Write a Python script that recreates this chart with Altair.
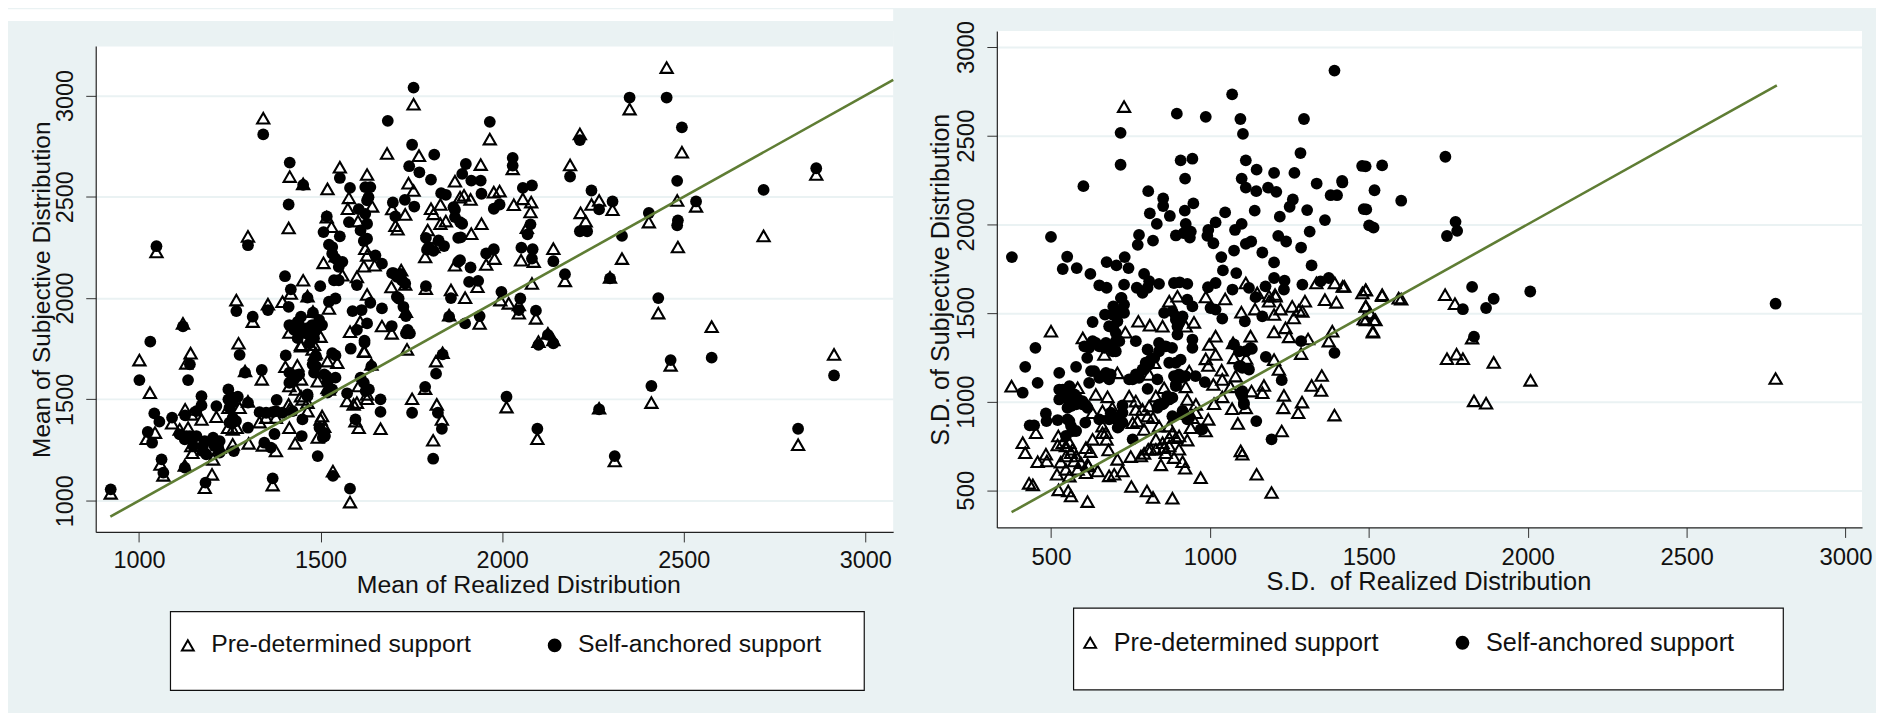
import altair as alt
import pandas as pd

BG = "#eaf2f3"
FONT = "Liberation Sans"
GREEN = "#5f7d34"
PRE = "Pre-determined support"
SELF = "Self-anchored support"

LEFT_TRI = [(1048,2228),(1342,2888),(1415,2600),(1452,2564),(1412,2346),(1300,2305),(1452,2088),(1418,2023),(1464,2010),(1268,1990),(1313,1884),(1355,1970),(1395,1982),(1121,1875),(1142,1728),(1274,1777),(1001,1694),(1130,1678),(1030,1533),(1021,1306),(1044,1336),(1091,1382),(1059,1179),(1067,1125),(922,1036),(1127,1451),(1172,1401),(1144,1426),(1147,1237),(1126,1174),(1204,1204),(1222,1262),(1181,1064),(1201,1130),(1213,1414),(1246,1459),(1277,1459),(1300,1490),(1245,1360),(1269,1360),(1302,1283),(1258,1278),(1332,1388),(1350,1410),(1412,1475),(1341,1273),(1377,1245),(1368,1077),(1414,1360),(1430,1283),(1450,1500),(1464,1442),(1492,1312),(1500,1401),(1510,1365),(1534,1146),(1581,993),(1519,1557),(1573,1492),(1591,1475),(1596,1393),(1605,1360),(1665,1355),(1605,1566),(1628,1503),(1752,1503),(1788,1553),(1820,1475),(1834,1401),(1810,1298),(1818,1689),(1836,1730),(1546,1681),(1519,1689),(1619,1738),(1640,1673),(1738,1747),(1403,1661),(1436,1668),(1446,1599),(1414,1566),(1432,1549),(1492,1590),(1484,1722),(1446,1763),(1478,1747),(1338,1599),(1292,1640),(1479,1933),(1414,1830),(1446,1770),(1500,1810),(1482,1770),(1523,1949),(1628,2018),(1609,1884),(1669,1862),(1696,1826),(1581,1834),(1621,1736),(1735,1933),(1695,2055),(1600,2105),(1790,2047),(1859,2040),(1854,1916),(1519,2539),(1553,2646),(1578,2495),(1575,2441),(1603,2380),(1517,2400),(1530,2352),(1628,2610),(1642,2453),(1623,2244),(1628,2211),(1619,2157),(1649,2162),(1683,2714),(1541,2207),(1508,2174),(1560,2113),(1756,2957),(1771,2703),(1742,2567),(1756,2531),(1697,2440),(1733,2413),(1706,2357),(1712,2340),(1804,2441),(1830,2462),(1870,2577),(1884,2498),(1811,2416),(1845,2380),(1830,2367),(1795,2336),(1811,2252),(1788,2203),(1870,2162),(1722,2138),(1733,2068),(1966,2785),(2214,2810),(2351,2933),(2453,3138),(2495,2720),(2482,2482),(2534,2453),(2484,2252),(2404,2375),(2330,2195),(2720,2307),(2865,2610),(2187,2657),(1941,2659),(2029,2638),(1977,2523),(1993,2528),(1913,2487),(1895,2507),(2057,2490),(2080,2474),(2032,2461),(2078,2425),(2068,2348),(2246,2462),(2267,2482),(2304,2436),(2216,2421),(2230,2380),(1943,2367),(1915,2318),(1979,2195),(1956,2166),(2052,2187),(2087,2180),(2141,2244),(2173,2085),(2082,2072),(1932,2056),(1898,2002),(1995,1990),(2018,1974),(2046,1966),(2046,1925),(2093,1900),(1938,1875),(2297,2102),(2126,1826),(2141,1793),(2100,1785),(2430,1926),(2577,1859),(2914,1722),(2464,1668),(2411,1484),(2012,1462),(2097,1306),(2267,1456),(2310,1196),(2815,1276),(1487,1728),(1135,1360),(1112,1352),(1258,1352),(1176,1253),(1144,1270),(1377,1410),(1414,1451),(1446,1516),(1464,1484),(1504,1418),(1523,1549),(1628,1525),(1600,1484)]

LEFT_CIR = [(1048,2256),(1342,2808),(1415,2669),(1452,2559),(1412,2462),(1300,2261),(1402,2108),(1418,2043),(1464,2002),(1499,2059),(1268,1936),(1313,1908),(1355,1941),(1412,1957),(1121,1860),(1031,1785),(1277,1720),(1001,1595),(1140,1673),(1135,1595),(1042,1431),(1056,1390),(1024,1339),(1036,1286),(1091,1410),(1062,1204),(1067,1138),(922,1056),(1127,1421),(1158,1442),(1172,1516),(1172,1470),(1112,1327),(1130,1319),(1144,1303),(1149,1270),(1126,1163),(1176,1270),(1181,1294),(1204,1311),(1222,1294),(1208,1270),(1222,1237),(1183,1089),(1213,1467),(1246,1549),(1246,1500),(1272,1513),(1258,1484),(1300,1484),(1258,1410),(1249,1385),(1300,1360),(1261,1245),(1332,1437),(1350,1434),(1368,1437),(1379,1497),(1377,1442),(1395,1434),(1423,1442),(1345,1286),(1373,1329),(1363,1262),(1368,1110),(1448,1319),(1464,1525),(1450,1401),(1492,1220),(1512,1319),(1534,1122),(1581,1059),(1519,1533),(1573,1530),(1596,1401),(1665,1438),(1665,1500),(1610,1607),(1619,1582),(1633,1549),(1752,1434),(1788,1562),(1823,1434),(1834,1355),(1810,1207),(1818,1627),(1836,1722),(1541,1717),(1583,1750),(1621,1780),(1640,1664),(1404,1717),(1414,1632),(1436,1615),(1487,1664),(1478,1673),(1482,1632),(1487,1714),(1516,1615),(1541,1607),(1338,1645),(1292,1632),(1446,1908),(1441,1867),(1479,1928),(1504,1867),(1477,1867),(1414,1867),(1437,1802),(1464,1851),(1482,1802),(1523,1982),(1541,1998),(1588,1936),(1613,1941),(1637,1977),(1628,1875),(1669,1949),(1696,1862),(1600,1843),(1621,1790),(1740,1843),(1735,1826),(1735,1911),(1715,1998),(1600,2064),(1790,2059),(1859,2000),(1854,1908),(1553,2593),(1581,2544),(1605,2439),(1578,2375),(1517,2403),(1508,2326),(1553,2305),(1637,2548),(1628,2482),(1628,2367),(1628,2293),(1619,2282),(1651,2211),(1669,2170),(1685,2875),(1523,2264),(1532,2220),(1560,2179),(1537,2088),(1756,3039),(1752,2757),(1813,2708),(1744,2651),(1772,2621),(1804,2585),(1758,2452),(1732,2485),(1699,2472),(1706,2403),(1832,2518),(1845,2510),(1870,2436),(1884,2375),(1790,2297),(1879,2297),(1840,2257),(1793,2239),(1811,2233),(1879,2179),(1697,2123),(1720,2119),(1733,2072),(1966,2870),(2214,2780),(2351,2990),(2453,2990),(2495,2843),(2482,2579),(2534,2477),(2484,2384),(2482,2359),(2404,2420),(2330,2307),(2720,2534),(2865,2641),(2187,2600),(1900,2662),(2029,2692),(2029,2654),(1915,2580),(1941,2580),(1943,2515),(1890,2613),(2057,2544),(2082,2556),(1993,2462),(1977,2441),(2078,2364),(2070,2315),(2267,2438),(2246,2531),(2304,2477),(2214,2330),(2234,2330),(1886,2300),(1890,2367),(1977,2241),(1956,2220),(2053,2249),(2084,2241),(2082,2195),(2141,2182),(2173,2118),(1913,2151),(1909,2080),(1934,2085),(1998,2031),(2050,1998),(2046,1941),(2093,1938),(1938,1911),(1898,1875),(2297,2097),(2126,1818),(2141,1777),(2100,1769),(2430,2000),(2914,1618),(2577,1706),(2464,1694),(2411,1566),(2012,1513),(2097,1355),(2267,1451),(2310,1220),(2815,1355),(1427,1843),(1446,1851),(1437,1883),(1460,1826),(1487,1843),(1496,1892),(1470,1777),(1532,1728),(1623,2548),(1632,2498),(1623,2416),(1610,2334),(1532,2252),(1541,2195),(1550,2154),(1550,2088),(1710,2105),(1724,2088),(1710,2006),(1728,1957),(1746,1826),(1701,2123),(1798,2252),(1825,2285),(1866,2449),(1870,2400),(1884,2187),(1158,1319),(1176,1245),(1140,1319),(1126,1303),(1185,1229),(1204,1286),(1218,1262),(1258,1385),(1267,1393),(1249,1459),(1258,1508),(1414,1582),(1427,1599),(1441,1623),(1464,1516),(1519,1582),(1510,1623),(1624,1541),(1506,1311),(1510,1335),(1497,1360),(1532,1549)]

RIGHT_TRI = [(730,2664),(1113,1669),(1149,1613),(1186,1595),(1205,1604),(1335,1669),(1393,1669),(1418,1650),(1480,1613),(500,1397),(376,1087),(453,824),(411,768),(419,712),(431,539),(443,530),(458,661),(484,703),(487,665),(523,806),(521,755),(519,590),(524,502),(554,496),(563,468),(615,436),(531,659),(547,750),(563,712),(547,618),(573,665),(610,599),(618,637),(647,609),(631,787),(624,718),(610,740),(662,824),(675,787),(681,727),(662,947),(631,937),(641,1040),(678,1027),(693,965),(600,1359),(668,1266),(584,1078),(709,1162),(683,581),(699,590),(725,609),(709,674),(751,690),(753,521),(802,496),(821,459),(882,455),(846,643),(793,708),(806,731),(887,684),(914,661),(922,624),(971,571),(1147,590),(1194,487),(1102,703),(1097,722),(1226,834),(1278,937),(1290,997),(1231,965),(1233,1035),(1392,924),(1350,1063),(1352,1147),(1320,1091),(1088,877),(1070,960),(1113,965),(1131,1059),(1165,1050),(1170,1091),(1217,1181),(1202,1237),(1202,1393),(1238,1416),(1249,1365),(1287,1271),(1309,1353),(1374,1341),(1385,1397),(1516,1462),(1490,1537),(1484,1466),(1513,1397),(1542,1603),(1490,1631),(1594,1584),(1398,1560),(1362,1575),(1299,1566),(1280,1515),(1291,1509),(1264,1472),(1259,1537),(1222,1522),(1202,1491),(1207,1594),(1186,1566),(1142,1522),(1099,1504),(1048,1579),(987,1590),(898,1594),(872,1566),(950,1447),(924,1425),(851,1425),(811,1431),(775,1453),(734,1391),(1018,1369),(998,1322),(1018,1266),(987,1241),(995,1204),(1037,1177),(1039,1125),(1011,1097),(1081,1144),(1128,1369),(1076,1247),(1114,1243),(1065,1083),(1039,1027),(1013,988),(1073,1331),(935,1172),(924,1083),(929,1012),(956,984),(995,900),(987,834),(929,783),(893,796),(856,1078),(830,1031),(809,975),(788,956),(767,1003),(746,1031),(772,890),(793,843),(821,909),(830,787),(856,740),(872,750),(882,824),(903,806),(940,853),(809,1153),(825,1219),(1825,1358),(1740,1603),(1771,1552),(1746,1242),(1776,1267),(1796,1242),(1893,1221),(1831,1004),(1869,991),(2009,1120),(2780,1130),(1542,1598),(1602,1578),(1491,1629),(1491,1539),(1491,1461),(1504,1500),(1521,1461),(1513,1391),(1423,1650),(537,768),(558,768),(568,731),(579,693),(594,656),(547,693),(558,580),(584,618),(615,646),(704,909),(662,862),(673,825),(783,693),(814,731),(830,731),(851,768),(861,712),(872,796),(903,731),(767,956),(757,881),(804,918),(840,862),(872,862),(924,937),(945,909),(956,937)]

RIGHT_CIR = [(377,1815),(500,1929),(602,2215),(719,2516),(719,2336),(896,2624),(987,2606),(1070,2733),(1096,2594),(1104,2510),(1296,2594),(1392,2867),(1285,2402),(1113,2361),(1147,2308),(1100,2258),(1113,2207),(1146,2187),(1202,2290),(1266,2290),(1183,2207),(1209,2183),(1261,2140),(1251,2099),(1336,2230),(1416,2245),(1380,2164),(1400,2164),(1479,2329),(1484,2086),(1306,2080),(1220,2043),(1362,2024),(1314,1959),(1215,1935),(1240,1903),(1287,1869),(1202,1785),(1320,1768),(1141,2077),(1100,2002),(1079,1968),(1130,1903),(1113,1890),(1165,1841),(1076,1852),(1036,1815),(1041,1740),(1083,1725),(908,2361),(945,2370),(922,2258),(948,2118),(921,2077),(806,2187),(853,2146),(853,2103),(811,2062),(874,2047),(833,2002),(1048,2067),(1018,2011),(924,2002),(995,1968),(992,1935),(1011,1893),(893,1937),(917,1950),(940,1959),(937,1925),(777,1940),(773,1884),(821,1908),(551,1817),(537,1748),(581,1753),(675,1787),(706,1768),(732,1815),(744,1753),(624,1720),(652,1656),(675,1642),(730,1660),(793,1720),(809,1679),(804,1642),(840,1664),(770,1642),(788,1613),(722,1585),(887,1669),(905,1673),(929,1664),(994,1645),(1018,1669),(1071,1632),(1144,1589),(1175,1650),(1202,1697),(1235,1682),(1291,1660),(1233,1632),(1123,1641),(1348,1678),(1374,1697),(720,1584),(696,1537),(670,1491),(730,1500),(631,1449),(696,1416),(715,1341),(631,1341),(605,1312),(668,1303),(695,1284),(614,1247),(626,1172),(662,1144),(688,1153),(579,1196),(526,1162),(419,1196),(451,1303),(458,1106),(411,1050),(620,1106),(526,1068),(558,1087),(574,1040),(526,1012),(563,975),(610,978),(484,933),(486,890),(521,896),(433,866),(447,866),(558,890),(608,881),(579,834),(547,806),(767,1341),(804,1294),(788,1181),(809,1209),(746,1125),(777,1134),(804,1072),(835,1125),(840,1331),(881,1303),(856,1500),(893,1481),(898,1425),(929,1575),(945,1537),(945,1350),(945,1303),(893,1219),(903,1153),(893,1097),(955,1144),(984,1110),(1002,1528),(1018,1519),(1039,1468),(1076,1322),(1092,1284),(1132,1297),(1176,1252),(1097,1200),(1123,1181),(1226,1121),(1102,1059),(1107,993),(1146,890),(1194,787),(1110,1453),(1165,1481),(1287,1341),(1392,1275),(725,978),(688,937),(715,909),(710,853),(652,900),(757,787),(851,984),(872,1012),(835,965),(882,918),(914,947),(929,900),(971,843),(1741,2381),(1490,2327),(1542,2332),(1518,2192),(1602,2133),(1492,2084),(1501,1994),(1515,1981),(1773,2014),(1778,1963),(1746,1934),(1825,1647),(1893,1580),(1796,1521),(1869,1528),(2008,1621),(2780,1552),(1831,1366),(1417,2236),(694,1491),(709,1453),(683,1425),(704,1387),(720,1509),(730,1547),(704,1341),(688,1312),(673,1331),(641,1331),(620,1303),(652,1312),(704,1284),(636,1172),(652,1134),(673,1162),(683,1125),(757,1125),(767,1153),(793,1181),(814,1237),(798,1219),(825,1247),(840,1284),(861,1312),(893,1462),(903,1444),(882,1509),(914,1481),(898,1378),(872,1219),(908,1237),(887,1144),(908,1134),(924,1144),(893,1087),(856,993),(866,1031),(840,984),(882,1022),(537,1068),(558,1050),(579,1031),(599,1003),(537,1031),(558,1003),(584,1012),(552,965),(579,984),(552,900),(563,862),(568,834),(599,984),(615,965),(694,918),(709,900),(715,862),(725,881),(683,900),(725,937),(914,928),(935,909),(976,843),(1097,1050),(1102,1031),(1107,984),(1102,1190),(1092,1200),(1128,1303),(1113,1284)]

LEFT_LINE = [921, 3077]
RIGHT_LINE = [376, 2784]
X_TICKS_L = [1000, 1500, 2000, 2500, 3000]
Y_TICKS_L = [1000, 1500, 2000, 2500, 3000]
X_TICKS_R = [500, 1000, 1500, 2000, 2500, 3000]
Y_TICKS_R = [500, 1000, 1500, 2000, 2500, 3000]


def table(tri, cir):
    rows = [{"x": a, "y": b, "group": PRE} for a, b in tri]
    rows += [{"x": a, "y": b, "group": SELF} for a, b in cir]
    return pd.DataFrame(rows)


def panel(tri, cir, line, w, h, xdom, ydom, xticks, yticks, xtitle, ytitle,
          title_x_pos, title_y_pos, ytitle_x, ytitle_y, legend_font, legend_x, legend_y,
          column_padding, box, strips, tick_font, xt_font, yt_font, x_pad):
    axis_common = dict(
        labelFont=FONT, labelFontSize=tick_font, labelColor="#111", titleFont=FONT,
        titleFontWeight="normal", titleColor="#111", domainColor="#222", domainWidth=1.2,
        tickColor="#333", tickSize=10, tickWidth=1, labelOverlap=False, labelFlush=False,
        labelBound=False,
    )
    x_enc = alt.X("x:Q", scale=alt.Scale(domain=xdom, nice=False, zero=False),
                  axis=alt.Axis(values=xticks, title=xtitle, grid=False, titleFontSize=xt_font,
                                titleX=title_x_pos, titleY=title_y_pos, titleBaseline="alphabetic",
                                labelPadding=x_pad, format="d", **axis_common))
    y_enc = alt.Y("y:Q", scale=alt.Scale(domain=ydom, nice=False, zero=False),
                  axis=alt.Axis(values=yticks, title=ytitle, grid=True, gridColor=BG, gridWidth=2,
                                titleFontSize=yt_font, titleX=ytitle_x, titleY=ytitle_y,
                                titleBaseline="alphabetic", titleAngle=270, labelAngle=270,
                                labelAlign="center", labelBaseline="bottom", labelPadding=8,
                                format="d", **axis_common))
    leg = alt.Legend(orient="none", legendX=legend_x, legendY=legend_y, title=None, columns=2,
                     labelFont=FONT, labelFontSize=legend_font, labelColor="#111", labelLimit=400,
                     symbolSize=140, symbolStrokeWidth=2,
                     labelOffset=11, columnPadding=column_padding, rowPadding=0)
    dom = [PRE, SELF]
    points = alt.Chart(table(tri, cir)).mark_point(opacity=1).encode(
        x=x_enc, y=y_enc,
        shape=alt.Shape("group:N", scale=alt.Scale(domain=dom, range=["triangle-up", "circle"]), legend=leg),
        fill=alt.Fill("group:N", scale=alt.Scale(domain=dom, range=["transparent", "black"]), legend=leg),
        stroke=alt.Stroke("group:N", scale=alt.Scale(domain=dom, range=["black", "black"]), legend=leg),
        size=alt.Size("group:N", scale=alt.Scale(domain=dom, range=[150, 140]), legend=None),
        strokeWidth=alt.StrokeWidth("group:N", scale=alt.Scale(domain=dom, range=[2.1, 0]), legend=None),
    )
    line_df = pd.DataFrame({"x": line, "y": line})
    diag = alt.Chart(line_df).mark_line(color=GREEN, strokeWidth=2.6).encode(x=x_enc, y=y_enc)
    blank = alt.Data(values=[{"a": 0}])
    layers = []
    for (x1, x2, y1, y2, col) in strips:
        layers.append(alt.Chart(blank).mark_rect(fill=col).encode(
            x=alt.value(x1), x2=alt.value(x2), y=alt.value(y1), y2=alt.value(y2)))
    box_layer = alt.Chart(blank).mark_rect(fill="white", stroke="#111", strokeWidth=1.2).encode(
        x=alt.value(box[0]), x2=alt.value(box[1]), y=alt.value(box[2]), y2=alt.value(box[3]))
    layers += [points, diag, box_layer]
    return alt.layer(*layers).resolve_scale(
        shape="independent", fill="independent", stroke="independent"
    ).properties(width=w, height=h)


left = panel(
    LEFT_TRI, LEFT_CIR, LEFT_LINE, 800, 502.5, [880.7, 3076.8], [845.5, 3318.2], X_TICKS_L, Y_TICKS_L,
    "Mean of Realized Distribution", "Mean of Subjective Distribution",
    424, 61, -46.5, 259, 24.8, 80, 603.5, 71, (75, 771, 582.5, 661.5),
    [(-88, 800, -22, -10, "white"), (-88, 800, -10, 15.5, BG), (-88, 800, 502.5, 683, "transparent")],
    23.5, 24.9, 24.5, 7,
)
right = panel(
    RIGHT_TRI, RIGHT_CIR, RIGHT_LINE, 868, 498, [329.6, 3052], [290, 3090], X_TICKS_R, Y_TICKS_R,
    "S.D.\u00a0 of Realized Distribution", "S.D. of Subjective Distribution",
    433, 62.5, -48.3, 249, 25.3, 81, 601, 70.5, (77, 789, 579, 661),
    [(-98, 882, -22, 0, "transparent"), (-98, 882, 498, 683, "transparent")],
    24, 25.5, 25.2, 8.5,
)

chart = alt.hconcat(left, right, spacing=0).resolve_scale(
    x="independent", y="independent", shape="independent", fill="independent",
    stroke="independent", size="independent", strokeWidth="independent",
).properties(background=BG, padding=0).configure_view(fill="white", stroke=None)

chart.save("out.html", embed_options={"renderer": "svg", "actions": False})
